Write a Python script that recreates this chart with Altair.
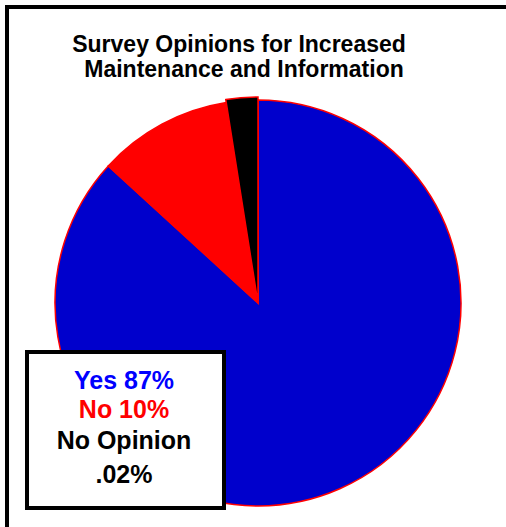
import altair as alt
import pandas as pd

# ---- data ----
categories = ["Yes", "No", "No Opinion"]
shares = [86.8, 10.7, 2.5]
slice_colors = ["#0000CC", "#FF0000", "#000000"]

legend_lines = ["Yes 87%", "No 10%", "No Opinion", ".02%"]
legend_line_colors = ["#0000FF", "#FF0000", "#000000", "#000000"]

title_lines = ["Survey Opinions for Increased", "Maintenance and Information"]

# ---- layout constants ----
W, H = 506, 527
CX, CY, R = 258, 303, 203
FONT = "Liberation Sans"

pie_df = pd.DataFrame({"category": categories, "share": shares, "order": [0, 1, 2]})

theta_scale = alt.Scale(domain=[0, sum(shares)])
color_scale = alt.Scale(domain=categories, range=slice_colors)

base = alt.Chart(pie_df).transform_window(
    t1="sum(share)", sort=[alt.SortField("order")], frame=[None, 0]
).transform_calculate(t0="datum.t1 - datum.share")

pie = base.mark_arc(stroke="#FF0000", strokeWidth=1.5, outerRadius=R).encode(
    theta=alt.Theta("t0:Q", scale=theta_scale),
    theta2="t1:Q",
    color=alt.Color("category:N", scale=color_scale, legend=None),
    x=alt.value(CX),
    y=alt.value(CY),
)

black_slice = base.transform_filter("datum.category == 'No Opinion'").mark_arc(
    stroke="#FF0000", strokeWidth=1.5, outerRadius=R + 3
).encode(
    theta=alt.Theta("t0:Q", scale=theta_scale),
    theta2="t1:Q",
    color=alt.Color("category:N", scale=color_scale, legend=None),
    x=alt.value(CX),
    y=alt.value(CY),
)

one = pd.DataFrame({"k": [0]})

layers = [pie, black_slice]

# title
title_pos = [(239, 52), (244, 77)]
for line, (tx, ty) in zip(title_lines, title_pos):
    layers.append(
        alt.Chart(pd.DataFrame({"t": [line]})).mark_text(
            font=FONT, fontSize=23, fontWeight="bold", color="#000000",
            align="center", baseline="alphabetic"
        ).encode(text="t:N", x=alt.value(tx), y=alt.value(ty))
    )

# legend box
layers.append(
    alt.Chart(one).mark_rect(fill="#FFFFFF", stroke="#000000", strokeWidth=4).encode(
        x=alt.value(27), x2=alt.value(224), y=alt.value(352), y2=alt.value(508)
    )
)
legend_y = [389, 418, 449, 483]
for line, col, ly in zip(legend_lines, legend_line_colors, legend_y):
    layers.append(
        alt.Chart(pd.DataFrame({"t": [line]})).mark_text(
            font=FONT, fontSize=25, fontWeight="bold", color=col,
            align="center", baseline="alphabetic"
        ).encode(text="t:N", x=alt.value(124), y=alt.value(ly))
    )

# frame lines (left and top)
layers.append(
    alt.Chart(one).mark_rule(color="#000000", strokeWidth=4).encode(
        x=alt.value(7), y=alt.value(5), y2=alt.value(H)
    )
)
layers.append(
    alt.Chart(one).mark_rule(color="#000000", strokeWidth=4).encode(
        x=alt.value(5), x2=alt.value(W), y=alt.value(7)
    )
)

chart = alt.layer(*layers).properties(
    width=W, height=H, autosize=alt.AutoSizeParams(type="none"), padding=0,
    background="#FFFFFF"
).configure_view(strokeWidth=0)

chart.save("out.html", embed_options={"renderer": "svg", "actions": False})
